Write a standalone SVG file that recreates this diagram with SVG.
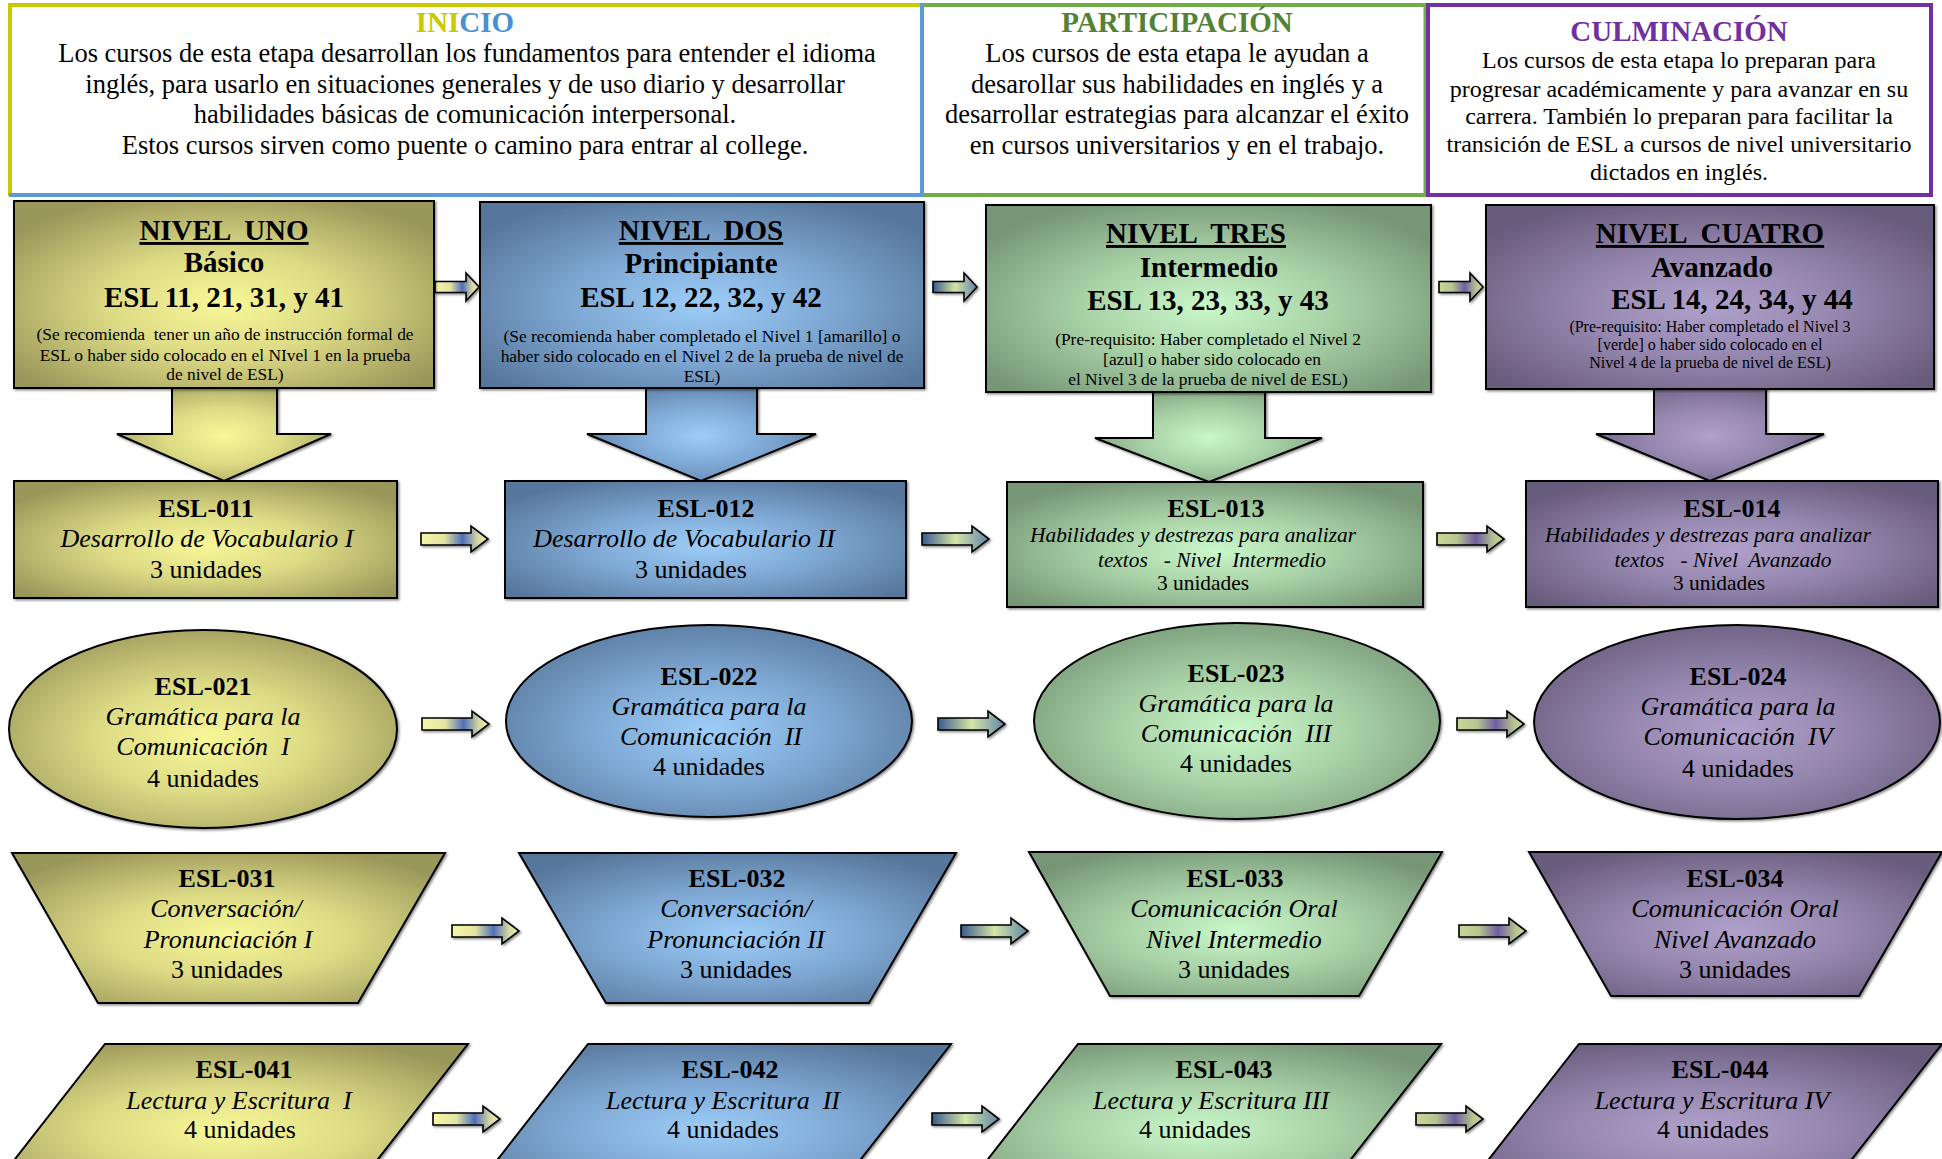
<svg xmlns="http://www.w3.org/2000/svg" width="1942" height="1159" viewBox="0 0 1942 1159">
<style>
.t{font-family:"Liberation Serif","Times New Roman",serif;fill:#000;text-anchor:middle}
.b{font-weight:bold}
.i{font-style:italic}
.h{font-size:26.5px}
.hc{font-size:24px}
.ht{font-size:29px;font-weight:bold}
.lv{font-size:29px;font-weight:bold}
.u{text-decoration:underline}
.sm{font-size:17.4px}
.sm2{font-size:16px}
.c{font-size:26px}
.c2{font-size:21.4px}
.sh{stroke:#000;stroke-width:2;filter:url(#ds)}
.ar{stroke:#000;stroke-width:1.6;filter:url(#ds)}
.cy{fill:#c9c900}
.cb{fill:#4a8fd2}
.cg{fill:#538135}
.cp{fill:#7030a0}
</style>
<defs>
<filter id="ds" x="-10%" y="-10%" width="130%" height="130%"><feDropShadow dx="1.5" dy="1.5" stdDeviation="0.8" flood-color="#000" flood-opacity="0.45"/></filter>
<radialGradient id="gY" cx="0.5" cy="0.55" r="0.62"><stop offset="0" stop-color="#f8f898"/><stop offset="0.45" stop-color="#dcda84"/><stop offset="1" stop-color="#9a975a"/></radialGradient>
<radialGradient id="gB" cx="0.5" cy="0.55" r="0.62"><stop offset="0" stop-color="#9ccdf8"/><stop offset="0.45" stop-color="#80aad6"/><stop offset="1" stop-color="#57779b"/></radialGradient>
<radialGradient id="gG" cx="0.5" cy="0.55" r="0.62"><stop offset="0" stop-color="#c9f8c9"/><stop offset="0.45" stop-color="#a9d2a7"/><stop offset="1" stop-color="#769676"/></radialGradient>
<radialGradient id="gP" cx="0.5" cy="0.55" r="0.62"><stop offset="0" stop-color="#afa1cb"/><stop offset="0.45" stop-color="#9587af"/><stop offset="1" stop-color="#685b7b"/></radialGradient>
<linearGradient id="aY" x1="0" y1="0" x2="1" y2="0"><stop offset="0" stop-color="#f6f6a8"/><stop offset="0.35" stop-color="#e4e4a2"/><stop offset="0.62" stop-color="#4f6fb8"/><stop offset="0.85" stop-color="#d6d8a4"/><stop offset="1" stop-color="#eeeeaa"/></linearGradient>
<linearGradient id="aB" x1="0" y1="0" x2="1" y2="0"><stop offset="0" stop-color="#3a5a90"/><stop offset="0.5" stop-color="#d5e6a5"/><stop offset="1" stop-color="#5f85ab"/></linearGradient>
<linearGradient id="aG" x1="0" y1="0" x2="1" y2="0"><stop offset="0" stop-color="#c8d898"/><stop offset="0.3" stop-color="#b8c490"/><stop offset="0.58" stop-color="#6e5ea2"/><stop offset="0.85" stop-color="#b6c48e"/><stop offset="1" stop-color="#c8d898"/></linearGradient>
<path id="arS" d="M0,-5.5 H31 V-14 L44,0 L31,14 V5.5 H0 Z"/>
<path id="arL" d="M0,-6 H50 V-13 L67,0 L50,13 V6 H0 Z"/>
</defs>
<rect width="1942" height="1159" fill="#fff"/>

<!-- header -->
<g id="inicio">
<line x1="9" y1="5" x2="922" y2="5" stroke="#c9c900" stroke-width="4"/>
<line x1="10" y1="3" x2="10" y2="196" stroke="#c9c900" stroke-width="4"/>
<line x1="9" y1="195" x2="923" y2="195" stroke="#5b9bd5" stroke-width="4"/>
<line x1="922" y1="3" x2="922" y2="197" stroke="#5b9bd5" stroke-width="4"/>
<text class="t ht" x="465" y="32"><tspan class="cy">INI</tspan><tspan class="cb">CIO</tspan></text>
<text class="t h" x="467" y="62">Los cursos de esta etapa desarrollan los fundamentos para entender el idioma</text>
<text class="t h" x="465" y="93">inglés, para usarlo en situaciones generales y de uso diario y desarrollar</text>
<text class="t h" x="465" y="123">habilidades básicas de comunicación interpersonal.</text>
<text class="t h" x="465" y="154">Estos cursos sirven como puente o camino para entrar al college.</text>
</g>
<g id="participacion">
<line x1="924" y1="5" x2="1427" y2="5" stroke="#70ad47" stroke-width="4"/>
<line x1="924" y1="195" x2="1427" y2="195" stroke="#70ad47" stroke-width="4"/>
<line x1="1425" y1="3" x2="1425" y2="197" stroke="#70ad47" stroke-width="3"/>
<text class="t ht cg" x="1177" y="32">PARTICIPACIÓN</text>
<text class="t h" x="1177" y="62">Los cursos de esta etapa le ayudan a</text>
<text class="t h" x="1177" y="93">desarollar sus habilidades en inglés y a</text>
<text class="t h" x="1177" y="123">desarrollar estrategias para alcanzar el éxito</text>
<text class="t h" x="1177" y="154">en cursos universitarios y en el trabajo.</text>
</g>
<g id="culminacion">
<rect x="1428" y="5" width="503" height="190" fill="none" stroke="#7030a0" stroke-width="4"/>
<text class="t ht cp" x="1679" y="41">CULMINACIÓN</text>
<text class="t hc" x="1679" y="68">Los cursos de esta etapa lo preparan para</text>
<text class="t hc" x="1679" y="97">progresar académicamente y para avanzar en su</text>
<text class="t hc" x="1679" y="124">carrera. También lo preparan para facilitar la</text>
<text class="t hc" x="1679" y="152">transición de ESL a cursos de nivel universitario</text>
<text class="t hc" x="1679" y="180">dictados en inglés.</text>
</g>

<!-- connectors -->
<g id="connectors">
<polygon class="sh" fill="url(#gY)" points="172,380 172,434 117,434 224,481 331,434 277,434 277,380"/>
<polygon class="sh" fill="url(#gB)" points="646,380 646,434 587,434 701,481 816,434 757,434 757,380"/>
<polygon class="sh" fill="url(#gG)" points="1153,384 1153,438 1095,438 1209,482 1322,438 1265,438 1265,384"/>
<polygon class="sh" fill="url(#gP)" points="1654,381 1654,434 1596,434 1710,481 1824,434 1766,434 1766,381"/>

<use href="#arS" class="ar" fill="url(#aY)" transform="translate(435,287)"/>
<use href="#arS" class="ar" fill="url(#aB)" transform="translate(933,287)"/>
<use href="#arS" class="ar" fill="url(#aG)" transform="translate(1439,287)"/>

<use href="#arL" class="ar" fill="url(#aY)" transform="translate(421,539)"/>
<use href="#arL" class="ar" fill="url(#aB)" transform="translate(922,539)"/>
<use href="#arL" class="ar" fill="url(#aG)" transform="translate(1437,539)"/>

<use href="#arL" class="ar" fill="url(#aY)" transform="translate(422,724)"/>
<use href="#arL" class="ar" fill="url(#aB)" transform="translate(938,724)"/>
<use href="#arL" class="ar" fill="url(#aG)" transform="translate(1457,724)"/>

<use href="#arL" class="ar" fill="url(#aY)" transform="translate(452,931)"/>
<use href="#arL" class="ar" fill="url(#aB)" transform="translate(961,931)"/>
<use href="#arL" class="ar" fill="url(#aG)" transform="translate(1459,931)"/>

<use href="#arL" class="ar" fill="url(#aY)" transform="translate(433,1119)"/>
<use href="#arL" class="ar" fill="url(#aB)" transform="translate(932,1119)"/>
<use href="#arL" class="ar" fill="url(#aG)" transform="translate(1416,1119)"/>
</g>

<!-- level boxes -->
<g id="nivel-uno">
<rect class="sh" fill="url(#gY)" x="14" y="201" width="420" height="187"/>
<text class="t lv u" x="224" y="240" xml:space="preserve">NIVEL  UNO</text>
<text class="t lv" x="224" y="272">Básico</text>
<text class="t lv" x="224" y="307">ESL 11, 21, 31, y 41</text>
<text class="t sm" x="225" y="340" xml:space="preserve">(Se recomienda  tener un año de instrucción formal de</text>
<text class="t sm" x="225" y="361">ESL o haber sido colocado en el NIvel 1 en la prueba</text>
<text class="t sm" x="225" y="380">de nivel de ESL)</text>
</g>
<g id="nivel-dos">
<rect class="sh" fill="url(#gB)" x="480" y="202" width="444" height="186"/>
<text class="t lv u" x="701" y="240" xml:space="preserve">NIVEL  DOS</text>
<text class="t lv" x="701" y="273">Principiante</text>
<text class="t lv" x="701" y="307">ESL 12, 22, 32, y 42</text>
<text class="t sm" x="702" y="342">(Se recomienda haber completado el Nivel 1 [amarillo] o</text>
<text class="t sm" x="702" y="362">haber sido colocado en el Nivel 2 de la prueba de nivel de</text>
<text class="t sm" x="702" y="382">ESL)</text>
</g>
<g id="nivel-tres">
<rect class="sh" fill="url(#gG)" x="986" y="205" width="445" height="187"/>
<text class="t lv u" x="1196" y="243" xml:space="preserve">NIVEL  TRES</text>
<text class="t lv" x="1209" y="277">Intermedio</text>
<text class="t lv" x="1208" y="310">ESL 13, 23, 33, y 43</text>
<text class="t sm" x="1208" y="345">(Pre-requisito: Haber completado el Nivel 2</text>
<text class="t sm" x="1212" y="365">[azul] o haber sido colocado en</text>
<text class="t sm" x="1208" y="385">el Nivel 3 de la prueba de nivel de ESL)</text>
</g>
<g id="nivel-cuatro">
<rect class="sh" fill="url(#gP)" x="1486" y="205" width="448" height="184"/>
<text class="t lv u" x="1710" y="243" xml:space="preserve">NIVEL  CUATRO</text>
<text class="t lv" x="1712" y="277">Avanzado</text>
<text class="t lv" x="1732" y="309">ESL 14, 24, 34, y 44</text>
<text class="t sm2" x="1710" y="332">(Pre-requisito: Haber completado el Nivel 3</text>
<text class="t sm2" x="1710" y="350">[verde] o haber sido colocado en el</text>
<text class="t sm2" x="1710" y="368">Nivel 4 de la prueba de nivel de ESL)</text>
</g>

<!-- row 2 -->
<g id="esl-011">
<rect class="sh" fill="url(#gY)" x="14" y="481" width="383" height="117"/>
<text class="t c b" x="206" y="517">ESL-011</text>
<text class="t c i" x="207" y="547">Desarrollo de Vocabulario I</text>
<text class="t c" x="206" y="578">3 unidades</text>
</g>
<g id="esl-012">
<rect class="sh" fill="url(#gB)" x="505" y="481" width="401" height="117"/>
<text class="t c b" x="706" y="517">ESL-012</text>
<text class="t c i" x="684" y="547">Desarrollo de Vocabulario II</text>
<text class="t c" x="691" y="578">3 unidades</text>
</g>
<g id="esl-013">
<rect class="sh" fill="url(#gG)" x="1007" y="482" width="416" height="125"/>
<text class="t c b" x="1216" y="517">ESL-013</text>
<text class="t c2 i" x="1193" y="542">Habilidades y destrezas para analizar</text>
<text class="t c2 i" x="1212" y="567" xml:space="preserve">textos   - Nivel  Intermedio</text>
<text class="t c2" x="1203" y="590">3 unidades</text>
</g>
<g id="esl-014">
<rect class="sh" fill="url(#gP)" x="1526" y="481" width="412" height="126"/>
<text class="t c b" x="1732" y="517">ESL-014</text>
<text class="t c2 i" x="1708" y="542">Habilidades y destrezas para analizar</text>
<text class="t c2 i" x="1723" y="567" xml:space="preserve">textos   - Nivel  Avanzado</text>
<text class="t c2" x="1719" y="590">3 unidades</text>
</g>

<!-- row 3 ellipses -->
<g id="esl-021">
<ellipse class="sh" fill="url(#gY)" cx="203" cy="729" rx="194" ry="99"/>
<text class="t c b" x="203" y="695">ESL-021</text>
<text class="t c i" x="203" y="725">Gramática para la</text>
<text class="t c i" x="203" y="755" xml:space="preserve">Comunicación  I</text>
<text class="t c" x="203" y="787">4 unidades</text>
</g>
<g id="esl-022">
<ellipse class="sh" fill="url(#gB)" cx="709" cy="721" rx="203" ry="96"/>
<text class="t c b" x="709" y="685">ESL-022</text>
<text class="t c i" x="709" y="715">Gramática para la</text>
<text class="t c i" x="711" y="745" xml:space="preserve">Comunicación  II</text>
<text class="t c" x="709" y="775">4 unidades</text>
</g>
<g id="esl-023">
<ellipse class="sh" fill="url(#gG)" cx="1237" cy="721" rx="203" ry="98"/>
<text class="t c b" x="1236" y="682">ESL-023</text>
<text class="t c i" x="1236" y="712">Gramática para la</text>
<text class="t c i" x="1236" y="742" xml:space="preserve">Comunicación  III</text>
<text class="t c" x="1236" y="772">4 unidades</text>
</g>
<g id="esl-024">
<ellipse class="sh" fill="url(#gP)" cx="1737" cy="722" rx="203" ry="97"/>
<text class="t c b" x="1738" y="685">ESL-024</text>
<text class="t c i" x="1738" y="715">Gramática para la</text>
<text class="t c i" x="1738" y="745" xml:space="preserve">Comunicación  IV</text>
<text class="t c" x="1738" y="777">4 unidades</text>
</g>

<!-- row 4 trapezoids -->
<g id="esl-031">
<polygon class="sh" fill="url(#gY)" points="12,853 445,853 358,1003 98,1003"/>
<text class="t c b" x="227" y="887">ESL-031</text>
<text class="t c i" x="226" y="917">Conversación/</text>
<text class="t c i" x="228" y="948">Pronunciación I</text>
<text class="t c" x="227" y="978">3 unidades</text>
</g>
<g id="esl-032">
<polygon class="sh" fill="url(#gB)" points="519,853 956,853 869,1003 606,1003"/>
<text class="t c b" x="737" y="887">ESL-032</text>
<text class="t c i" x="736" y="917">Conversación/</text>
<text class="t c i" x="736" y="948">Pronunciación II</text>
<text class="t c" x="736" y="978">3 unidades</text>
</g>
<g id="esl-033">
<polygon class="sh" fill="url(#gG)" points="1029,852 1442,852 1359,996 1110,996"/>
<text class="t c b" x="1235" y="887">ESL-033</text>
<text class="t c i" x="1234" y="917">Comunicación Oral</text>
<text class="t c i" x="1234" y="948">Nivel Intermedio</text>
<text class="t c" x="1234" y="978">3 unidades</text>
</g>
<g id="esl-034">
<polygon class="sh" fill="url(#gP)" points="1529,852 1942,852 1859,996 1611,996"/>
<text class="t c b" x="1735" y="887">ESL-034</text>
<text class="t c i" x="1735" y="917">Comunicación Oral</text>
<text class="t c i" x="1735" y="948">Nivel Avanzado</text>
<text class="t c" x="1735" y="978">3 unidades</text>
</g>

<!-- row 5 parallelograms -->
<g id="esl-041">
<polygon class="sh" fill="url(#gY)" points="105,1044 468,1044 346,1200 -17,1200"/>
<text class="t c b" x="244" y="1078">ESL-041</text>
<text class="t c i" x="239" y="1109" xml:space="preserve">Lectura y Escritura  I</text>
<text class="t c" x="240" y="1138">4 unidades</text>
</g>
<g id="esl-042">
<polygon class="sh" fill="url(#gB)" points="588,1044 951,1044 829,1200 466,1200"/>
<text class="t c b" x="730" y="1078">ESL-042</text>
<text class="t c i" x="723" y="1109" xml:space="preserve">Lectura y Escritura  II</text>
<text class="t c" x="723" y="1138">4 unidades</text>
</g>
<g id="esl-043">
<polygon class="sh" fill="url(#gG)" points="1078,1044 1441,1044 1319,1200 956,1200"/>
<text class="t c b" x="1224" y="1078">ESL-043</text>
<text class="t c i" x="1211" y="1109">Lectura y Escritura III</text>
<text class="t c" x="1195" y="1138">4 unidades</text>
</g>
<g id="esl-044">
<polygon class="sh" fill="url(#gP)" points="1579,1044 1942,1044 1820,1200 1457,1200"/>
<text class="t c b" x="1720" y="1078">ESL-044</text>
<text class="t c i" x="1712" y="1109">Lectura y Escritura IV</text>
<text class="t c" x="1713" y="1138">4 unidades</text>
</g>
</svg>
